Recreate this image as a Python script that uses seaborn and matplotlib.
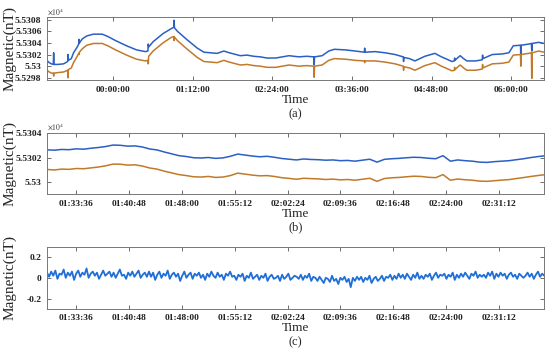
import numpy as np
import pandas as pd
import matplotlib
matplotlib.use('Agg')
import matplotlib.pyplot as plt
from matplotlib.ticker import FuncFormatter
import seaborn as sns

# ---- panel (a): whole record, time in minutes from 00:00:00 ----
a_time = [-60, -58, -56, -54.3, -54, -53.7, -50, -45, -41.3, -41, -40.7, -38, -36, -33,
          -31.3, -31, -30.7, -28, -24, -18, -10, -5, 2, 12, 21, 29, 31.3, 31.6, 32, 36,
          45, 52, 54.7, 55, 55.3, 58, 67, 76, 82, 94, 100, 105, 109, 115, 121, 127, 133,
          139, 147, 153, 159, 168, 175, 181.5, 181.8, 182.1, 189, 195, 200, 210, 219,
          227.2, 227.5, 227.8, 237, 246, 255, 262.4, 262.7, 263, 268, 273, 282, 291, 297,
          303, 306.5, 308.6, 308.9, 309.2, 312, 314, 317, 320, 328, 333.9, 334.2, 334.5,
          343, 352, 358, 362, 368.5, 368.8, 369.1, 376, 378.4, 378.7, 379, 385, 390]
a_blue = [55301.0, 55300.6, 55300.4, 55300.3, 55302.3, 55300.3, 55300.3, 55300.4, 55300.8,
          55302.0, 55301.0, 55301.3, 55302.3, 55303.2, 55303.8, 55304.6, 55304.0, 55304.7,
          55305.2, 55305.5, 55305.5, 55305.1, 55304.4, 55303.5, 55302.8, 55302.5, 55302.6,
          55303.8, 55303.3, 55304.2, 55305.6, 55306.4, 55306.7, 55307.9, 55306.6, 55306.0,
          55304.5, 55303.1, 55302.4, 55302.2, 55302.6, 55302.3, 55302.1, 55301.8, 55301.9,
          55301.7, 55301.6, 55301.4, 55301.4, 55301.6, 55301.8, 55301.6, 55301.7, 55301.6,
          55300.2, 55301.6, 55301.8, 55302.6, 55302.9, 55302.8, 55302.6, 55302.4, 55303.1,
          55302.4, 55302.5, 55302.3, 55302.0, 55301.6, 55300.8, 55301.5, 55301.3, 55300.9,
          55301.7, 55302.2, 55301.6, 55301.1, 55300.8, 55300.9, 55301.4, 55301.0, 55301.5,
          55301.8, 55301.3, 55300.9, 55300.9, 55301.1, 55301.9, 55301.3, 55302.0, 55302.1,
          55302.3, 55303.5, 55303.6, 55301.7, 55303.6, 55303.8, 55303.9, 55302.6, 55303.9,
          55304.1, 55303.9]
a_orange = [55299.3, 55299.0, 55298.8, 55298.8, 55298.3, 55298.8, 55298.9, 55299.0, 55299.3,
            55298.0, 55299.4, 55299.7, 55300.6, 55301.6, 55302.2, 55302.0, 55302.4, 55303.0,
            55303.6, 55303.9, 55303.9, 55303.5, 55302.8, 55301.9, 55301.2, 55300.9, 55301.0,
            55300.4, 55301.7, 55302.6, 55304.0, 55304.9, 55305.1, 55304.4, 55305.0, 55304.4,
            55302.9, 55301.5, 55300.8, 55300.6, 55301.0, 55300.7, 55300.5, 55300.2, 55300.3,
            55300.1, 55300.0, 55299.8, 55299.8, 55300.0, 55300.2, 55300.0, 55300.1, 55300.0,
            55298.1, 55300.0, 55300.2, 55301.0, 55301.3, 55301.2, 55301.0, 55300.9, 55300.6,
            55300.9, 55300.9, 55300.7, 55300.4, 55300.0, 55299.3, 55299.9, 55299.7, 55299.3,
            55300.1, 55300.6, 55300.0, 55299.5, 55299.2, 55299.3, 55299.8, 55299.4, 55299.9,
            55300.2, 55299.7, 55299.3, 55299.3, 55299.5, 55300.3, 55299.7, 55300.4, 55300.5,
            55300.7, 55301.9, 55302.0, 55300.0, 55302.0, 55302.2, 55302.3, 55297.9, 55302.3,
            55302.6, 55302.4]
a_xticks = [0, 72, 144, 216, 288, 360]
a_xlabels = ['00:00:00', '01:12:00', '02:24:00', '03:36:00', '04:48:00', '06:00:00']
a_yticks = [55298, 55300, 55302, 55304, 55306, 55308]

# ---- panel (b): zoomed window, one sample per minute starting 01:29:36 ----
b_start, b_step = 89.6, 1.0
b_blue = [55302.63, 55302.60, 55302.66, 55302.64, 55302.71, 55302.68, 55302.76, 55302.82,
          55302.90, 55303.02, 55303.00, 55302.93, 55302.95, 55302.86, 55302.70, 55302.62,
          55302.45, 55302.30, 55302.15, 55302.08, 55301.98, 55301.96, 55302.00, 55301.93,
          55301.97, 55302.10, 55302.28, 55302.20, 55302.12, 55302.06, 55302.10, 55302.02,
          55301.92, 55301.86, 55301.80, 55301.88, 55301.84, 55301.82, 55301.78, 55301.80,
          55301.74, 55301.76, 55301.70, 55301.78, 55301.86, 55301.62, 55301.85, 55301.90,
          55301.93, 55301.98, 55302.02, 55302.00, 55301.94, 55301.90, 55302.15, 55301.70,
          55301.80, 55301.74, 55301.70, 55301.62, 55301.60, 55301.66, 55301.70, 55301.74,
          55301.82, 55301.90, 55302.00, 55302.08, 55302.15]
b_orange = [55301.02, 55300.98, 55301.05, 55301.03, 55301.10, 55301.08, 55301.15, 55301.22,
            55301.32, 55301.46, 55301.45, 55301.38, 55301.40, 55301.30, 55301.14, 55301.05,
            55300.88, 55300.74, 55300.60, 55300.52, 55300.42, 55300.40, 55300.45, 55300.37,
            55300.40, 55300.52, 55300.72, 55300.64, 55300.56, 55300.50, 55300.52, 55300.45,
            55300.35, 55300.29, 55300.22, 55300.30, 55300.27, 55300.25, 55300.20, 55300.23,
            55300.17, 55300.20, 55300.14, 55300.22, 55300.30, 55300.05, 55300.28, 55300.34,
            55300.37, 55300.42, 55300.47, 55300.45, 55300.38, 55300.35, 55300.60, 55300.14,
            55300.24, 55300.18, 55300.14, 55300.07, 55300.05, 55300.10, 55300.15, 55300.19,
            55300.28, 55300.36, 55300.45, 55300.53, 55300.60]

# ---- panel (c): difference of the two sensors over the same window ----
c_start, c_end = 89.6, 157.4
c_diff = [0.05, 0.01, 0.06, 0.02, 0.07, -0.01, 0.04, 0.03, 0.08, 0.00,
          0.05, 0.02, 0.06, -0.02, 0.04, 0.07, 0.01, 0.05, 0.03, 0.09,
          0.00, 0.04, 0.06, 0.02, 0.05, -0.01, 0.03, 0.07, 0.02, 0.04,
          0.06, 0.01, 0.05, 0.00, 0.04, 0.08, 0.02, 0.03, -0.01, 0.05,
          0.02, 0.06, 0.01, 0.04, 0.07, 0.00, 0.03, 0.05, 0.01, 0.06,
          0.01, 0.05, -0.02, 0.03, 0.06, 0.00, 0.04, 0.02, 0.07, -0.01,
          0.03, 0.05, 0.01, 0.04, -0.03, 0.02, 0.06, 0.00, 0.03, 0.05,
          -0.01, 0.04, 0.02, 0.05, 0.00, 0.03, -0.02, 0.04, 0.01, 0.06,
          0.02, 0.00, 0.05, 0.01, 0.03, -0.02, 0.04, 0.02, 0.06, 0.01,
          0.02, -0.02, 0.03, 0.01, 0.04, -0.03, 0.02, 0.00, 0.05, -0.01,
          0.01, 0.03, -0.02, 0.02, 0.00, 0.04, -0.03, 0.01, 0.03, -0.01,
          0.00, 0.02, -0.03, 0.03, -0.01, 0.01, 0.04, -0.02, 0.00, 0.02,
          0.01, -0.01, 0.03, -0.02, 0.02, 0.00, 0.04, -0.03, 0.01, 0.00,
          -0.03, 0.01, -0.02, -0.05, 0.00, -0.01, -0.04, 0.02, -0.03, -0.01,
          -0.06, 0.00, -0.02, 0.01, -0.04, -0.01, -0.09, 0.00, -0.03, 0.01,
          -0.02, 0.01, -0.04, 0.00, -0.02, 0.02, -0.05, -0.01, 0.01, -0.03,
          -0.01, 0.02, -0.03, 0.01, 0.00, 0.03, -0.02, 0.02, -0.01, 0.04,
          0.00, 0.03, -0.01, 0.04, 0.01, -0.02, 0.03, 0.00, 0.05, -0.01,
          0.02, -0.01, 0.03, 0.01, 0.04, -0.02, 0.02, 0.05, 0.00, 0.03,
          0.02, 0.04, -0.01, 0.03, 0.01, 0.05, -0.02, 0.03, 0.00, 0.04,
          0.01, 0.05, 0.02, -0.01, 0.04, 0.02, 0.06, 0.00, 0.03, 0.01,
          0.03, 0.00, 0.05, 0.02, 0.06, -0.01, 0.04, 0.01, 0.05, 0.02,
          0.04, -0.01, 0.03, 0.05, 0.01, 0.03, -0.01, 0.04, 0.02, 0.00,
          0.02, 0.05, 0.01, 0.04, -0.01, 0.03, 0.06, 0.01, 0.04, 0.02]
bc_xticks = [93.6, 100.8, 108.0, 115.2, 122.4, 129.6, 136.8, 144.0, 151.2]
bc_xlabels = ['01:33:36', '01:40:48', '01:48:00', '01:55:12', '02:02:24',
              '02:09:36', '02:16:48', '02:24:00', '02:31:12']
b_yticks = [55300, 55302, 55304]
c_yticks = [-0.2, 0, 0.2]

BLUE = '#2b5fc4'
ORANGE = '#c07a2a'
DIFF_BLUE = '#1f6fd6'

sns.set_style('ticks')
plt.rcParams['font.family'] = ['Liberation Serif', 'DejaVu Serif']
plt.rcParams['mathtext.fontset'] = 'stix'

fig = plt.figure(figsize=(5.5, 3.53), dpi=100)
ax_a = fig.add_axes([0.0855, 0.773, 0.904, 0.178])
ax_b = fig.add_axes([0.0855, 0.450, 0.904, 0.173])
ax_c = fig.add_axes([0.0855, 0.125, 0.904, 0.176])

b_time = b_start + b_step * np.arange(len(b_blue))
c_time = np.linspace(c_start, c_end, len(c_diff))

sns.lineplot(x=a_time, y=a_blue, ax=ax_a, color=BLUE, lw=1.1, sort=False, estimator=None)
sns.lineplot(x=a_time, y=a_orange, ax=ax_a, color=ORANGE, lw=1.1, sort=False, estimator=None)
sns.lineplot(x=b_time, y=b_blue, ax=ax_b, color=BLUE, lw=1.1, sort=False, estimator=None)
sns.lineplot(x=b_time, y=b_orange, ax=ax_b, color=ORANGE, lw=1.1, sort=False, estimator=None)
sns.lineplot(x=c_time, y=c_diff, ax=ax_c, color=DIFF_BLUE, lw=1.3, sort=False, estimator=None)

sci = FuncFormatter(lambda v, p: f'{v / 1e4:g}')

panels = [
    (ax_a, (-60, 390), (55297.6, 55308.4), a_xticks, a_xlabels, a_yticks, '(a)', True),
    (ax_b, (89.6, 157.4), (55299.0, 55304.0), bc_xticks, bc_xlabels, b_yticks, '(b)', True),
    (ax_c, (89.6, 157.4), (-0.3, 0.3), bc_xticks, bc_xlabels, c_yticks, '(c)', False),
]
for ax, xl, yl, xt, xlab, yt, tag, scaled in panels:
    ax.set_xlim(*xl)
    ax.set_ylim(*yl)
    ax.set_xticks(xt)
    ax.set_xticklabels(xlab)
    ax.set_yticks(yt)
    if scaled:
        ax.yaxis.set_major_formatter(sci)
        ax.text(0.0, 1.01, r'$\times 10^4$', transform=ax.transAxes,
                ha='left', va='bottom', fontsize=5.5, color='#333333')
    else:
        ax.yaxis.set_major_formatter(FuncFormatter(lambda v, p: f'{v:g}'))
    ax.tick_params(direction='in', length=3, width=0.6, top=True, right=True,
                   labelsize=6.8, colors='#555555', labelcolor='#222222', pad=4)
    for lbl in ax.get_xticklabels() + ax.get_yticklabels():
        lbl.set_fontweight('bold')
    for sp in ax.spines.values():
        sp.set_visible(True)
        sp.set_color('#777777')
        sp.set_linewidth(0.7)
    ax.set_xlabel('Time', fontsize=9.5, labelpad=0)
    ax.set_ylabel('Magnetic(nT)', fontsize=11)
    ax.yaxis.set_label_coords(-0.062, 0.5)
    ax.text(0.5, -0.54, tag, transform=ax.transAxes, ha='center', va='center', fontsize=9)

fig.savefig('out.png', dpi=100)
